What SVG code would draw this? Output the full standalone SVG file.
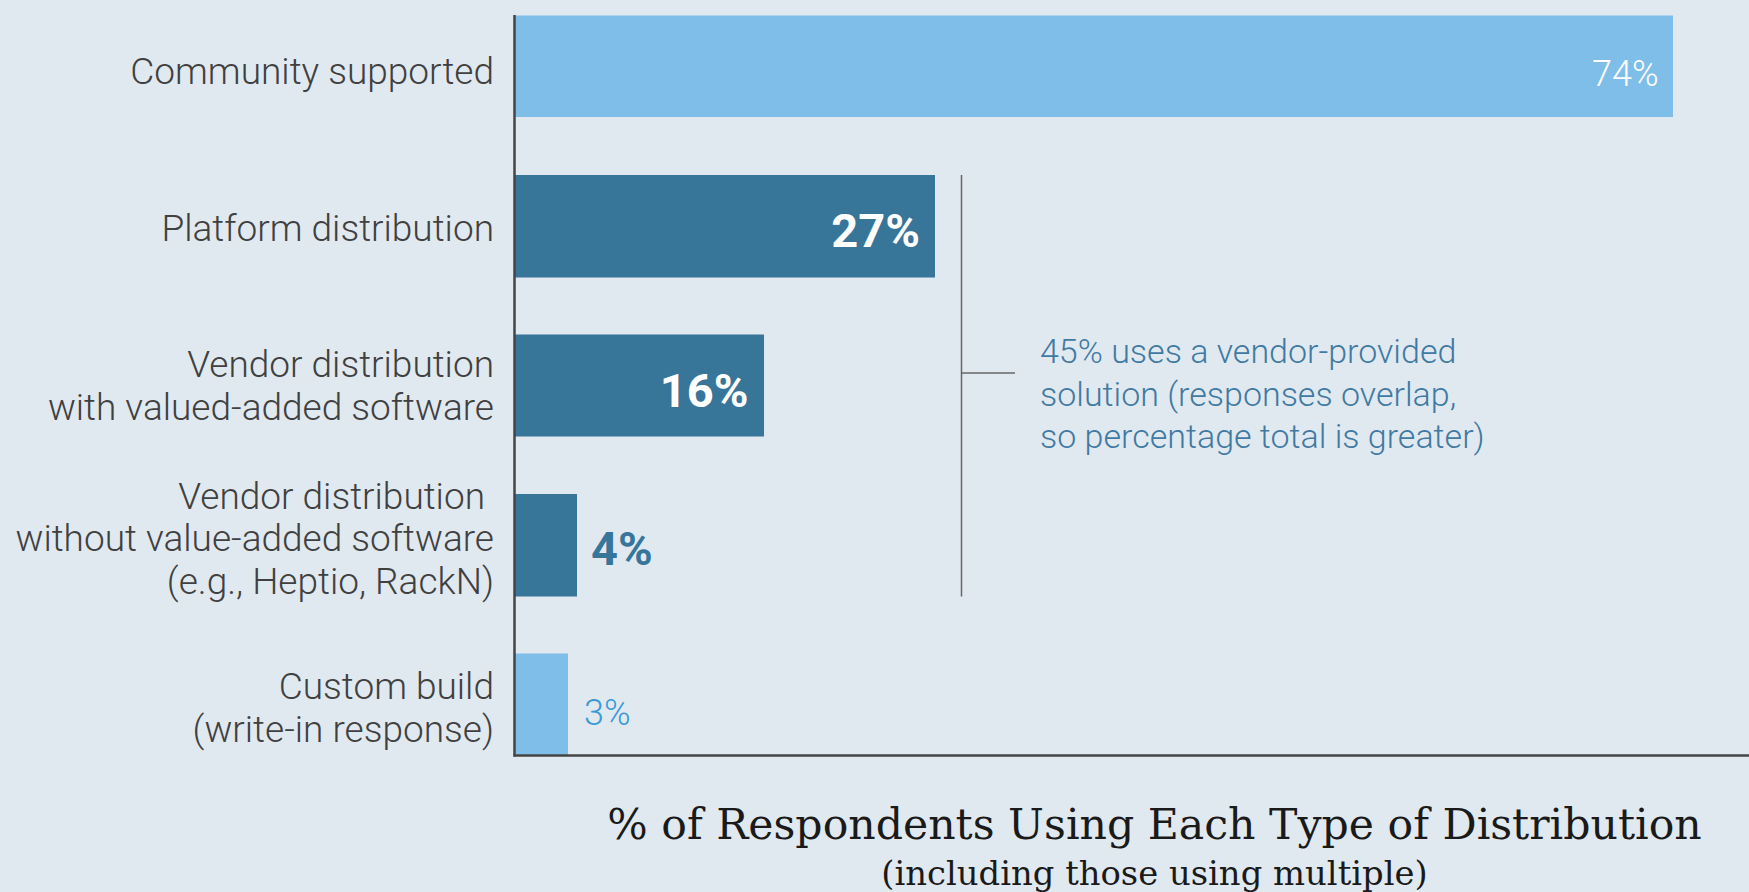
<svg xmlns="http://www.w3.org/2000/svg" width="1749" height="892" viewBox="0 0 1749 892">
<style>
.lbl{font-family:Roboto,"Liberation Sans",sans-serif;font-weight:300;font-size:37px;fill:#404040;text-anchor:end}
.light{fill:#7fbee8}
.dark{fill:#377599}
.vbold{font-family:Roboto,"Liberation Sans",sans-serif;font-weight:700;font-size:47px}
.vlight{font-family:Roboto,"Liberation Sans",sans-serif;font-weight:300;font-size:36px}
.note{font-family:Roboto,"Liberation Sans",sans-serif;font-weight:300;font-size:34px;fill:#3f7aa3}
.title{font-family:"DejaVu Serif","Liberation Serif",serif;fill:#1a1a1a;text-anchor:middle}
.axis{stroke:#444444;stroke-width:2.5;fill:none}
.brk{stroke:#666666;stroke-width:1.5;fill:none}
</style>
<rect x="0" y="0" width="1749" height="892" fill="#e1e9f0"/>
<g id="community">
<rect class="light" x="515" y="15.5" width="1158" height="101.5"/>
<text class="lbl" x="494" y="83.5">Community supported</text>
<text class="vlight" x="1658.5" y="86" text-anchor="end" fill="#ffffff">74%</text>
</g>
<g id="platform">
<rect class="dark" x="515" y="175" width="420" height="102.5"/>
<text class="lbl" x="494" y="241">Platform distribution</text>
<text class="vbold" x="920" y="246.5" text-anchor="end" fill="#ffffff">27%</text>
</g>
<g id="vendor-with">
<rect class="dark" x="515" y="334.5" width="249" height="102"/>
<text class="lbl" x="494" y="377">Vendor distribution</text>
<text class="lbl" x="494" y="419.5">with valued-added software</text>
<text class="vbold" x="748.5" y="406.5" text-anchor="end" fill="#ffffff">16%</text>
</g>
<g id="vendor-without">
<rect class="dark" x="515" y="494" width="62" height="102.5"/>
<text class="lbl" x="485" y="508.5">Vendor distribution</text>
<text class="lbl" x="494" y="551">without value-added software</text>
<text class="lbl" x="494" y="594">(e.g., Heptio, RackN)</text>
<text class="vbold" x="591" y="565" fill="#37759a">4%</text>
</g>
<g id="custom">
<rect class="light" x="515" y="653.5" width="53" height="101.5"/>
<text class="lbl" x="494" y="698.5">Custom build</text>
<text class="lbl" x="494" y="741.5">(write-in response)</text>
<text class="vlight" x="584" y="725" fill="#3a9ad8">3%</text>
</g>
<g id="axes">
<line class="axis" x1="514.5" y1="15" x2="514.5" y2="756.5"/>
<line class="axis" x1="513.5" y1="755.5" x2="1749" y2="755.5"/>
</g>
<g id="connectors">
<line class="brk" x1="961.5" y1="175" x2="961.5" y2="596.5"/>
<line class="brk" x1="961.5" y1="373" x2="1015" y2="373"/>
</g>
<g id="note">
<text class="note" x="1040" y="363">45% uses a vendor-provided</text>
<text class="note" x="1040" y="405.5">solution (responses overlap,</text>
<text class="note" x="1040" y="448">so percentage total is greater)</text>
</g>
<g id="title">
<text class="title" x="1154.5" y="838.5" font-size="42.6">% of Respondents Using Each Type of Distribution</text>
<text class="title" x="1154.5" y="884.5" font-size="33.8">(including those using multiple)</text>
</g>
</svg>
